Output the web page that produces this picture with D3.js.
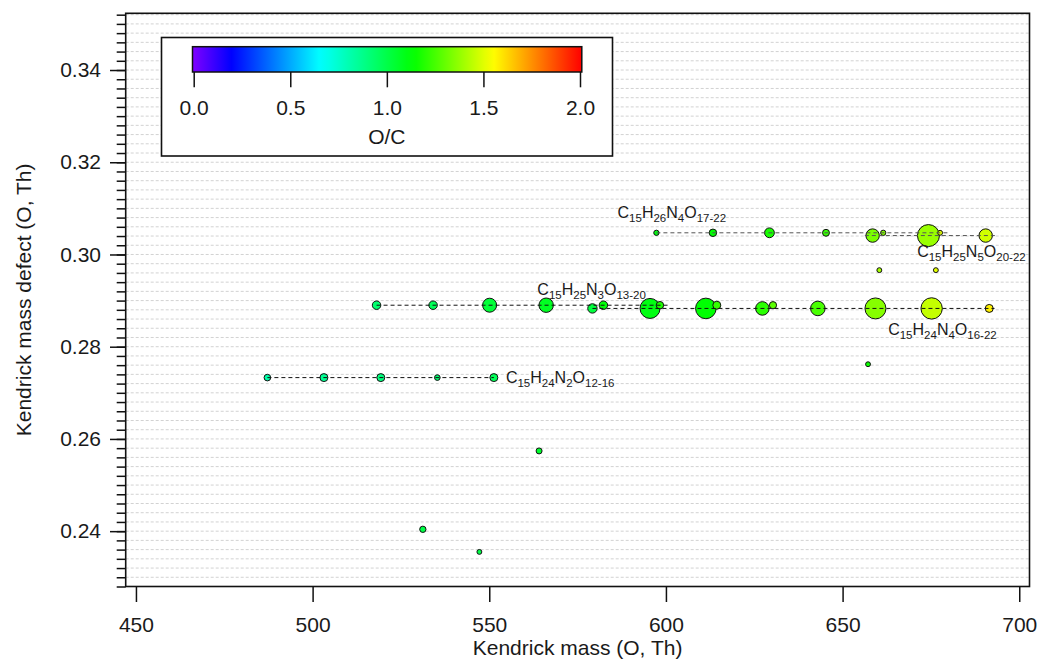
<!DOCTYPE html>
<html>
<head>
<meta charset="utf-8">
<script src="https://cdn.jsdelivr.net/npm/d3@7/dist/d3.min.js"></script>
<style>
  html, body { margin: 0; padding: 0; background: #ffffff; }
  svg { display: block; }
  text { font-family: "Liberation Sans", Arial, Helvetica, sans-serif; fill: #1a1a1a; }
</style>
</head>
<body>
<svg id="chart" width="1041" height="664"></svg>
<script>
// ---------------- data ----------------
// C15H24N2O12-16 family
const massN2   = [487.2, 503.2, 519.3, 535.3, 551.3];
const defectN2 = [0.2733, 0.2733, 0.2733, 0.2733, 0.2733];
const signalN2 = [11, 16, 16, 8, 16];
const ocN2     = [0.82, 0.86, 0.90, 0.93, 0.97];

// C15H25N3O13-20 family
const massN3   = [518.1, 534.1, 550.1, 566.1, 582.3, 598.3, 614.4, 630.3];
const defectN3 = [0.2890, 0.2890, 0.2890, 0.2890, 0.2890, 0.2890, 0.2890, 0.2890];
const signalN3 = [18, 18, 49, 52, 18, 14, 16, 13];
const ocN3     = [0.93, 0.97, 1.03, 1.07, 1.12, 1.18, 1.22, 1.28];

// C15H24N4O16-22 family
const massN4   = [579.2, 595.5, 611.3, 627.3, 643.0, 659.3, 675.2, 691.5];
const defectN4 = [0.2883, 0.2883, 0.2883, 0.2883, 0.2883, 0.2883, 0.2883, 0.2883];
const signalN4 = [22, 100, 106, 46, 53, 110, 114, 16];
const ocN4     = [1.02, 1.10, 1.13, 1.20, 1.25, 1.35, 1.45, 1.57];

// C15H26N4O17-22 family
const massN4b   = [597.3, 613.3, 629.3, 645.3, 661.5, 677.6];
const defectN4b = [0.3047, 0.3047, 0.3047, 0.3047, 0.3047, 0.3047];
const signalN4b = [7, 14, 24, 12, 7, 6];
const ocN4b     = [1.10, 1.13, 1.17, 1.22, 1.35, 1.50];

// C15H25N5O20-22 family
const massN5   = [658.5, 674.3, 690.5];
const defectN5 = [0.3041, 0.3041, 0.3041];
const signalN5 = [45, 121, 45];
const ocN5     = [1.33, 1.38, 1.47];

// isolated compounds
const massOther   = [660.4, 676.4, 657.2, 564.1, 531.2, 547.2];
const defectOther = [0.2966, 0.2966, 0.2762, 0.2574, 0.2404, 0.2355];
const signalOther = [6, 6, 6, 9, 10, 6];
const ocOther     = [1.40, 1.50, 1.15, 1.05, 1.00, 1.00];

// homologous-series guide lines
const lineDefect = [0.2733, 0.2890, 0.2883, 0.3047, 0.3041];
const lineStart  = [487.2, 518.1, 579.2, 597.3, 656.3];
const lineEnd    = [551.3, 601.1, 693.0, 680.4, 693.1];

// series labels (anchor = start of text, baseline)
const labelText   = ["C15H26N4O17-22", "C15H25N3O13-20", "C15H24N2O12-16", "C15H25N5O20-22", "C15H24N4O16-22"];
const labelMass   = [586.3, 563.6, 554.7, 671.1, 662.9];
const labelDefect = [0.3079, 0.2912, 0.2721, 0.2995, 0.2826];

// axis ticks
const xTicks      = [450, 500, 550, 600, 650, 700];
const yMajorTicks = [0.24, 0.26, 0.28, 0.30, 0.32, 0.34];
const colorTicks  = [0.0, 0.5, 1.0, 1.5, 2.0];

// ---------------- layout ----------------
const svg = d3.select("#chart");
const plot = { left: 125.7, right: 1029.5, top: 13.3, bottom: 586.5 };
const x = d3.scaleLinear().domain([447.1, 702.9]).range([plot.left, plot.right]);
const y = d3.scaleLinear().domain([0.228, 0.3523]).range([plot.bottom, plot.top]);
const r = d3.scaleSqrt().domain([0, 121]).range([0, 11]);
const color = d3.scaleLinear()
  .domain([0, 0.2, 0.656, 1.134, 1.545, 2.0])
  .range(["#8000ff", "#0000ff", "#00ffff", "#00ff00", "#ffff00", "#ff0000"]);

const yMinorTicks = d3.range(0, 63).map(i => +(0.228 + i * 0.002).toFixed(3)).filter(v => v <= 0.3523);

// grid
svg.append("g").selectAll("line").data(yMinorTicks).join("line")
  .attr("x1", plot.left).attr("x2", plot.right)
  .attr("y1", d => y(d)).attr("y2", d => y(d))
  .attr("stroke", "#d2d2d2").attr("stroke-width", 1)
  .attr("stroke-dasharray", "3,2");

// points
function build(m, d, s, c) { return m.map((v, i) => ({ m: v, d: d[i], s: s[i], c: c[i] })); }
const points = [].concat(
  build(massN2, defectN2, signalN2, ocN2),
  build(massN3, defectN3, signalN3, ocN3),
  build(massN4, defectN4, signalN4, ocN4),
  build(massN4b, defectN4b, signalN4b, ocN4b),
  build(massN5, defectN5, signalN5, ocN5),
  build(massOther, defectOther, signalOther, ocOther)
).sort((a, b) => b.s - a.s);

svg.append("g").selectAll("circle").data(points).join("circle")
  .attr("cx", d => x(d.m)).attr("cy", d => y(d.d)).attr("r", d => r(d.s))
  .attr("fill", d => color(d.c))
  .attr("stroke", "#111").attr("stroke-width", 1);

// guide lines
const lineColors = ["#111", "#111", "#111", "#555", "#555"];
svg.append("g").selectAll("line").data(lineDefect).join("line")
  .attr("x1", (d, i) => x(lineStart[i])).attr("x2", (d, i) => x(lineEnd[i]))
  .attr("y1", d => y(d)).attr("y2", d => y(d))
  .attr("stroke", (d, i) => lineColors[i]).attr("stroke-width", 1)
  .attr("stroke-dasharray", "4,3");

// labels with subscripts
const lg = svg.append("g");
labelText.forEach((t, i) => {
  const txt = lg.append("text")
    .attr("x", x(labelMass[i])).attr("y", y(labelDefect[i]))
    .attr("font-size", 16);
  const parts = t.match(/[A-Z][a-z]?|[0-9\-]+/g);
  let sub = false;
  parts.forEach(p => {
    const isSub = /^[0-9\-]/.test(p);
    const ts = txt.append("tspan").text(p);
    if (isSub) {
      ts.attr("font-size", 11.5);
      if (!sub) ts.attr("dy", 4);
    } else if (sub) {
      ts.attr("dy", -4);
    }
    sub = isSub;
  });
});

// frame
svg.append("rect")
  .attr("x", plot.left).attr("y", plot.top)
  .attr("width", plot.right - plot.left).attr("height", plot.bottom - plot.top)
  .attr("fill", "none").attr("stroke", "#111").attr("stroke-width", 1.6);

// y axis
const yAxisMinor = d3.axisLeft(y).tickValues(yMinorTicks).tickSize(9).tickFormat("");
const yAxisMajor = d3.axisLeft(y).tickValues(yMajorTicks).tickSize(15.7).tickPadding(9).tickFormat(d3.format(".2f"));
const gyMinor = svg.append("g").attr("transform", `translate(${plot.left},0)`).call(yAxisMinor);
const gyMajor = svg.append("g").attr("transform", `translate(${plot.left},0)`).call(yAxisMajor);
[gyMinor, gyMajor].forEach(g => {
  g.select(".domain").remove();
  g.selectAll("line").attr("stroke", "#111").attr("stroke-width", 1.5);
  g.selectAll("text").attr("font-size", 21).attr("fill", "#1a1a1a")
    .attr("font-family", "Liberation Sans, Arial, sans-serif");
});

// x axis
const xAxis = d3.axisBottom(x).tickValues(xTicks).tickSize(15.5).tickFormat(d3.format("d"));
const gx = svg.append("g").attr("transform", `translate(0,${plot.bottom})`).call(xAxis);
gx.select(".domain").remove();
gx.selectAll("line").attr("stroke", "#111").attr("stroke-width", 1.5);
gx.selectAll("text").attr("font-size", 21).attr("fill", "#1a1a1a")
  .attr("font-family", "Liberation Sans, Arial, sans-serif")
  .attr("y", 45.2).attr("dy", null);

// axis titles
svg.append("text").attr("x", (plot.left + plot.right) / 2).attr("y", 655)
  .attr("text-anchor", "middle").attr("font-size", 21).text("Kendrick mass (O, Th)");
svg.append("text")
  .attr("transform", `translate(31,${(plot.top + plot.bottom) / 2}) rotate(-90)`)
  .attr("text-anchor", "middle").attr("font-size", 21).text("Kendrick mass defect (O, Th)");

// colour bar legend
const leg = svg.append("g");
leg.append("rect").attr("x", 161.5).attr("y", 37.5).attr("width", 451).attr("height", 118.5)
  .attr("fill", "#ffffff").attr("stroke", "#111").attr("stroke-width", 1.6);
const cx = d3.scaleLinear().domain([0, 2]).range([193.7, 580]);
const defs = svg.append("defs");
const grad = defs.append("linearGradient").attr("id", "ocgrad")
  .attr("x1", "0%").attr("x2", "100%").attr("y1", "0%").attr("y2", "0%");
d3.range(0, 41).forEach(i => {
  const v = i / 20;
  grad.append("stop").attr("offset", (i / 40 * 100) + "%").attr("stop-color", color(v));
});
leg.append("rect").attr("x", 192.5).attr("y", 46.7).attr("width", 389.3).attr("height", 25.3)
  .attr("fill", "url(#ocgrad)").attr("stroke", "#111").attr("stroke-width", 1.5);
const cAxis = d3.axisBottom(cx).tickValues(colorTicks).tickSize(15.3).tickFormat(d3.format(".1f"));
const gc = leg.append("g").attr("transform", "translate(0,72)").call(cAxis);
gc.select(".domain").remove();
gc.selectAll("line").attr("stroke", "#111").attr("stroke-width", 1.5);
gc.selectAll("text").attr("font-size", 21).attr("fill", "#1a1a1a")
  .attr("font-family", "Liberation Sans, Arial, sans-serif")
  .attr("y", 43).attr("dy", null);
leg.append("text").attr("x", (193.7 + 580) / 2).attr("y", 143.5)
  .attr("text-anchor", "middle").attr("font-size", 21).text("O/C");
</script>
</body>
</html>
